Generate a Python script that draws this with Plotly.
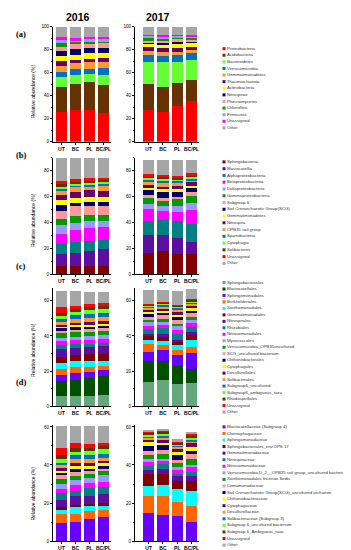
import plotly.graph_objects as go

W, H = 351, 550
treat = ["UT", "BC", "PL", "BC/PL"]
years = ["2016", "2017"]
row_labels = ["(a)", "(b)", "(c)", "(d)"]

# ---------------- (a) phylum ----------------
a_names = ["Proteobacteria", "Acidobacteria", "Bacteroidetes", "Verrucomicrobia",
           "Gemmatimonadetes", "Thaumarchaeota", "Actinobacteria", "Nitrospirae",
           "Planctomycetes", "Chloroflexi", "Firmicutes", "Unassigned", "Other"]
a_colors = ["#ff0000", "#663300", "#66ff33", "#0070c0", "#ff9933", "#660066", "#ffff00",
            "#000066", "#ff9999", "#009900", "#9999ff", "#ff00ff", "#a6a6a6"]
a_2016 = [
    [26.3, 21.4, 8.3, 5.0, 5.3, 4.3, 4.4, 4.0, 3.6, 4.3, 1.7, 2.8, 8.6],
    [27.4, 23.2, 7.7, 5.1, 5.2, 2.8, 4.3, 5.2, 4.0, 2.2, 1.5, 1.7, 9.7],
    [27.7, 24.0, 7.2, 4.8, 5.7, 2.9, 4.8, 4.9, 2.9, 2.8, 1.4, 1.8, 9.1],
    [25.1, 24.6, 8.3, 6.3, 5.1, 3.5, 4.2, 4.6, 4.0, 2.0, 1.4, 1.8, 9.1],
]
a_2017 = [
    [28.0, 22.0, 19.4, 6.0, 3.2, 3.7, 2.6, 2.0, 1.7, 1.7, 2.0, 0.8, 6.9],
    [26.3, 21.7, 21.4, 5.5, 2.8, 4.0, 2.9, 2.3, 1.7, 1.7, 1.7, 0.9, 7.1],
    [31.4, 19.5, 18.5, 5.7, 3.2, 3.7, 3.1, 2.0, 2.0, 1.8, 1.4, 0.8, 6.9],
    [35.7, 18.0, 17.7, 5.5, 3.1, 2.9, 2.8, 2.0, 1.7, 1.5, 1.1, 0.9, 7.1],
]

# ---------------- (b) class ----------------
b_names = ["Sphingobacteria", "Blastocatellia", "Alphaproteobacteria", "Betaproteobacteria",
           "Deltaproteobacteria", "Gammaproteobacteria", "Subgroup 6",
           "Soil Crenarchaeotic Group(SCG)", "Gemmatimonadetes", "Nitrospira",
           "OPB35 soil group", "Spartobacteria", "Cytophagia", "Solibacteres",
           "Unassigned", "Other"]
b_colors = ["#800000", "#5a0fa0", "#008080", "#ff00ff", "#9999ff", "#009900", "#ff9999",
            "#000066", "#ffff00", "#660066", "#ff9933", "#0070c0", "#66ff33", "#663300",
            "#ff0000", "#a6a6a6"]
b_2016 = [
    [6.4, 8.9, 8.2, 7.7, 6.6, 5.1, 6.2, 4.1, 4.1, 4.0, 3.9, 1.3, 0.7, 2.3, 2.6, 18.1],
    [6.4, 10.2, 8.2, 9.7, 5.1, 5.1, 7.7, 2.6, 4.3, 4.6, 3.8, 1.3, 1.3, 1.3, 1.8, 16.8],
    [6.4, 11.5, 8.2, 9.7, 5.1, 5.1, 6.4, 3.3, 4.4, 5.1, 3.0, 1.3, 1.3, 1.3, 2.0, 16.1],
    [6.6, 12.6, 7.6, 9.5, 4.6, 4.6, 6.9, 3.8, 3.9, 4.6, 4.3, 1.3, 1.3, 1.2, 1.8, 15.6],
]
b_2017 = [
    [16.6, 14.1, 10.2, 9.5, 3.8, 4.6, 2.5, 3.9, 1.8, 2.0, 3.1, 1.5, 1.0, 1.3, 1.3, 11.5],
    [17.9, 12.8, 11.5, 6.9, 3.3, 4.3, 2.6, 4.6, 1.8, 2.0, 3.1, 2.0, 1.3, 1.3, 1.3, 12.0],
    [15.3, 12.8, 12.8, 6.9, 4.6, 5.6, 2.1, 4.3, 1.5, 2.3, 2.6, 1.5, 1.3, 1.3, 1.3, 12.5],
    [15.3, 9.5, 14.0, 11.0, 5.2, 5.8, 2.6, 3.1, 1.7, 2.8, 1.8, 1.3, 1.3, 1.3, 1.3, 10.7],
]

# ---------------- (c) order ----------------
c_names = ["Sphingobacteriales", "Blastocatellales", "Sphingomonadales", "Burkholderiales",
           "Xanthomonadales", "Gemmatimonadales", "Nitrospirales", "Rhizobiales",
           "Nitrosomonadales", "Myxococcales", "Verrucomicrobia_OPB35uncultured",
           "SCG_uncultured bacterium", "Chthoniobacterales", "Cytophagales",
           "Desulfurellales", "Solibacterales", "Subgroup6_uncultured",
           "Subgroup6_ambiguous_taxa", "Rhodospirillales", "Unassigned", "Other"]
c_colors = ["#66a67f", "#005000", "#6600ff", "#ff6600", "#00ffff", "#800000", "#5a0fa0",
            "#008080", "#ff00ff", "#9999ff", "#009900", "#ff9999", "#000066", "#ffff00",
            "#660066", "#ff9933", "#0070c0", "#66ff33", "#663300", "#ff0000", "#a6a6a6"]
c_2016 = [
    [6.0, 8.6, 3.2, 3.2, 3.4, 3.8, 4.1, 2.6, 2.1, 2.0, 2.5, 1.5, 1.3, 0.9, 1.1, 1.7, 1.5, 2.0, 1.5, 3.5, 8.8],
    [6.0, 9.0, 3.8, 3.8, 2.9, 3.8, 4.0, 1.9, 2.3, 2.0, 2.5, 1.6, 1.4, 1.0, 1.5, 2.0, 2.5, 1.5, 2.0, 1.7, 8.1],
    [6.0, 10.0, 3.5, 3.0, 3.0, 4.0, 4.3, 1.7, 2.3, 2.2, 2.5, 1.5, 1.3, 1.0, 1.7, 2.0, 2.5, 2.0, 2.0, 1.5, 7.0],
    [6.2, 10.8, 3.5, 2.5, 3.0, 4.0, 4.2, 1.8, 2.2, 2.3, 2.5, 1.5, 1.3, 1.0, 1.7, 2.0, 2.3, 2.2, 2.0, 1.5, 6.5],
]
c_2017 = [
    [14.1, 11.6, 5.2, 4.4, 2.2, 2.3, 1.5, 2.8, 1.8, 1.9, 1.5, 1.3, 1.9, 1.1, 1.2, 1.1, 0.7, 0.6, 0.6, 0.3, 7.9],
    [15.0, 10.7, 6.2, 2.8, 2.4, 2.3, 1.9, 3.1, 1.9, 1.5, 1.9, 1.9, 1.5, 1.3, 0.9, 1.3, 1.0, 0.5, 0.8, 0.5, 6.6],
    [12.8, 10.1, 6.2, 2.8, 2.8, 1.9, 1.3, 3.4, 2.2, 1.9, 1.5, 1.9, 1.8, 1.3, 1.5, 1.4, 0.9, 0.6, 0.5, 0.6, 7.9],
    [13.1, 7.9, 9.4, 3.4, 4.1, 2.4, 1.9, 2.8, 2.3, 1.8, 1.5, 2.3, 1.5, 1.5, 1.3, 0.9, 0.8, 0.7, 0.8, 0.5, 5.7],
]

# ---------------- (d) family ----------------
d_names = ["Blastocatellaceae (Subgroup 4)", "Chitinophagaceae", "Sphingomonadaceae",
           "Sphingobacteriales_env.OPS 17", "Gemmatimonadaceae", "Nitrospiraceae",
           "Nitrosomonadaceae", "Verrucomicrobia;D_2__OPB35 soil group_uncultured bacterium",
           "Xanthomonadales Incertae Sedis", "Comamonadaceae",
           "Soil Crenarchaeotic Group(SCG)_uncultured archaeon", "Chthoniobacteraceae",
           "Cytophagaceae", "Desulfurellaceae", "Solibacteraceae (Subgroup 3)",
           "Subgroup 6_uncultured bacterium", "Subgroup 6_Ambiguous_taxa", "Unassigned", "Other"]
d_colors = ["#6600ff", "#ff6600", "#00ffff", "#800000", "#5a0fa0", "#008080", "#ff00ff",
            "#9999ff", "#009900", "#ff9999", "#000066", "#ffff00", "#660066", "#ff9933",
            "#0070c0", "#66ff33", "#663300", "#ff0000", "#a6a6a6"]
d_2016 = [
    [9.7, 4.3, 2.5, 1.4, 3.9, 3.5, 2.1, 2.6, 2.6, 2.1, 1.4, 0.8, 1.4, 1.6, 1.4, 1.7, 2.1, 4.0, 11.6],
    [10.1, 4.3, 3.5, 1.2, 4.5, 2.9, 3.0, 2.8, 2.0, 2.1, 1.4, 1.7, 1.4, 2.1, 2.1, 1.7, 2.3, 2.2, 9.4],
    [11.4, 4.2, 3.1, 0.9, 4.3, 3.8, 2.8, 2.4, 2.3, 1.7, 1.2, 1.4, 1.4, 2.1, 2.1, 2.2, 1.8, 1.7, 9.9],
    [12.7, 3.4, 2.6, 1.4, 4.7, 3.5, 2.9, 3.5, 2.2, 1.2, 1.4, 1.4, 1.2, 1.8, 1.7, 2.6, 1.7, 1.8, 9.0],
]
d_2017 = [
    [14.7, 8.9, 5.5, 6.1, 2.3, 2.0, 2.1, 1.4, 2.1, 2.2, 2.6, 2.1, 1.4, 0.9, 0.8, 0.9, 0.9, 0.7, 0.7],
    [13.5, 10.4, 5.6, 5.7, 2.9, 2.3, 1.7, 1.3, 2.2, 2.3, 2.4, 1.4, 1.7, 0.9, 1.2, 0.9, 0.8, 1.1, 0.6],
    [13.2, 7.3, 6.9, 4.3, 2.3, 1.2, 2.3, 1.5, 2.3, 1.4, 2.4, 1.7, 1.4, 1.4, 0.7, 0.5, 0.9, 0.8, 0.9],
    [10.1, 8.1, 8.3, 5.2, 2.3, 2.1, 2.6, 1.2, 3.1, 2.6, 1.7, 2.3, 1.7, 1.2, 0.9, 0.9, 0.8, 1.3, 0.8],
]

rows = [
    (a_names, a_colors, a_2016, a_2017),
    (b_names, b_colors, b_2016, b_2017),
    (c_names, c_colors, c_2016, c_2017),
    (d_names, d_colors, d_2016, d_2017),
]

# ---------------- layout geometry (pixels) ----------------
col_x = [(45, 102.5, [-0.6, 3.5]), (127, 190.7, [-0.95, 3.5])]
row_y = [(17, 133, [0, 100]), (149.2, 266.7, [0, 90]), (280.9, 400, [0, 67]), (418.8, 536, [0, 61])]
legend_y = [(39, 119), (153.3, 255.7), (275, 405.7), (420.7, 540)]
ytitle_y = [82, 212, 343, 488]
label_y = [24, 146, 258, 375]
legend_x0 = 216


def fx(p):
    return p / W


def fy(p):
    return 1 - p / H


def key(prefix, n):
    return prefix if n == 1 else f"{prefix}{n}"


fig = go.Figure()
layout = {}
annotations = []
axis_font = dict(family="Liberation Sans, Arial, sans-serif", size=4.6, color="#000")

for r, (names, colors, v16, v17) in enumerate(rows):
    ytop, ybot, yrange = row_y[r]
    for c, vals in enumerate([v16, v17]):
        n = r * 2 + c + 1
        x0, x1, xrange_ = col_x[c]
        for k, name in enumerate(names):
            fig.add_trace(go.Bar(
                x=treat, y=[bar[k] for bar in vals], name=name,
                marker=dict(color=colors[k], line=dict(width=0)),
                xaxis=key("x", n), yaxis=key("y", n), showlegend=False,
            ))
        layout[key("xaxis", n)] = dict(
            domain=[fx(x0), fx(x1)], range=xrange_, anchor=key("y", n),
            showline=True, linecolor="#000", linewidth=0.8, ticks="outside",
            ticklen=2, tickwidth=0.6, tickcolor="#000", showgrid=False, zeroline=False,
            tickfont=dict(family="Liberation Sans, Arial, sans-serif", size=5, color="#000", weight="bold"),
        )
        layout[key("yaxis", n)] = dict(
            domain=[fy(ybot), fy(ytop)], range=yrange, anchor=key("x", n),
            showline=True, linecolor="#000", linewidth=0.8, ticks="outside",
            ticklen=2, tickwidth=0.6, tickcolor="#000", dtick=20, showgrid=False,
            zeroline=False, tickfont=axis_font,
            minor=dict(ticks="outside", dtick=10, ticklen=1.2, tickwidth=0.5, tickcolor="#000"),
        )
    # legend block as a scatter on a hidden axis
    n = 8 + r + 1
    f, l = legend_y[r]
    cnt = len(names)
    step = (l - f) / (cnt - 1)
    fig.add_trace(go.Scatter(
        x=[0] * cnt, y=list(range(cnt)), mode="markers+text", text=names,
        textposition="middle right", cliponaxis=False, showlegend=False,
        marker=dict(symbol="square", size=3, color=colors, line=dict(width=0)),
        textfont=dict(family="Liberation Sans, Arial, sans-serif", size=4.3, color="#333"),
        xaxis=key("x", n), yaxis=key("y", n), hoverinfo="skip",
    ))
    layout[key("xaxis", n)] = dict(domain=[fx(legend_x0), 1], range=[0, 1], visible=False,
                                   anchor=key("y", n))
    layout[key("yaxis", n)] = dict(domain=[fy(l + step / 2), fy(f - step / 2)],
                                   range=[cnt - 0.5, -0.5], visible=False, anchor=key("x", n))

    annotations.append(dict(
        x=fx(25), y=fy(ytitle_y[r]), xref="paper", yref="paper", text="Relative abundance (%)",
        textangle=-90, showarrow=False, xanchor="center", yanchor="middle",
        font=dict(family="Liberation Sans, Arial, sans-serif", size=5, color="#000"),
    ))
    annotations.append(dict(
        x=fx(6), y=fy(label_y[r]), xref="paper", yref="paper", text=f"<b>{row_labels[r]}</b>",
        showarrow=False, xanchor="left", yanchor="middle",
        font=dict(family="Liberation Serif, Times New Roman, serif", size=8.5, color="#000"),
    ))

for c, (cx, yr) in enumerate([(70, years[0]), (150, years[1])]):
    annotations.append(dict(
        x=fx(cx), y=fy(7.5), xref="paper", yref="paper", text=f"<b>{yr}</b>",
        showarrow=False, xanchor="center", yanchor="middle",
        font=dict(family="Liberation Sans, Arial, sans-serif", size=10.5, color="#000"),
    ))

fig.update_layout(
    **layout,
    annotations=annotations,
    barmode="stack", bargap=0.2,
    width=W, height=H, margin=dict(l=0, r=0, t=0, b=0),
    paper_bgcolor="white", plot_bgcolor="white",
    showlegend=False,
)

fig.write_html("out.html")
